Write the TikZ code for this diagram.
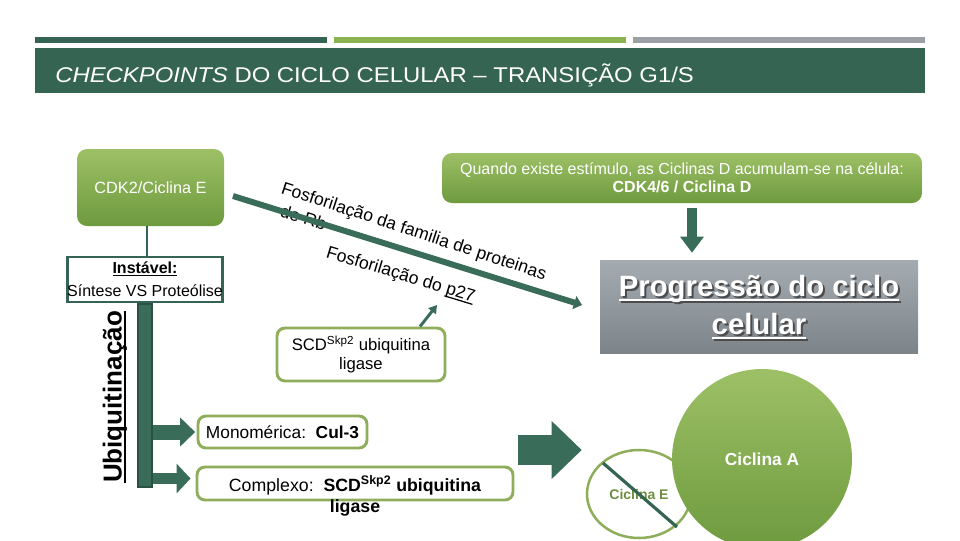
\documentclass[tikz,border=0pt]{standalone}
\usepackage{fontspec}
\setmainfont{Liberation Sans}
\usetikzlibrary{shapes.geometric,arrows.meta,calc}
\definecolor{darkgreen}{HTML}{356552}
\definecolor{arrowgreen}{HTML}{3A6C5A}
\definecolor{leafgreen}{HTML}{8AB24E}
\definecolor{bargray}{HTML}{9AA0A5}
\definecolor{boxtop}{HTML}{9DC066}
\definecolor{boxbottom}{HTML}{6E9A3E}
\definecolor{olive}{HTML}{8FAE5C}
\definecolor{cicEtext}{HTML}{6F8E3F}
\definecolor{graytop}{HTML}{A5ACB1}
\definecolor{graybottom}{HTML}{7C848A}
\newlength\ulwd
\newcommand{\ulin}[1]{\settowidth{\ulwd}{#1}\rlap{\rule[-0.16em]{\ulwd}{0.07em}}#1}

\begin{document}
\begin{tikzpicture}[x=0.75pt, y=-0.75pt,
  greenbox/.style={rounded corners=7.5pt, top color=boxtop, bottom color=boxbottom, text=white, align=center, inner sep=0pt},
  olivebox/.style={draw=olive, line width=2.2pt, rounded corners=6pt, fill=white, align=center, inner sep=0pt},
  framebox/.style={draw=darkgreen, line width=2.2pt, fill=white, align=center, inner sep=0pt},
  rottext/.style={anchor=base west, inner sep=0pt, font=\fontsize{13.2}{15}\selectfont},
  progtext/.style={align=center, inner sep=0pt, font=\fontsize{22}{28.5}\selectfont\bfseries},
  sidearrow/.style={arrowgreen, shorten >=1pt}]
  \useasboundingbox (0,0) rectangle (960,540);

  % Header
  \fill[darkgreen] (35,37) rectangle (327,43);
  \fill[leafgreen] (334,37) rectangle (626,43);
  \fill[bargray] (633,37) rectangle (925,43);
  \fill[darkgreen] (35,48) rectangle (925,93);
  \node[anchor=west, text=white, inner sep=0pt, xscale=1.12, font=\fontsize{16}{19}\selectfont] (titulo) at (55,75)
    {\textit{CHECKPOINTS} DO CICLO CELULAR – TRANSIÇÃO G1/S};

  % Left column
  \node[greenbox, minimum width=110.25pt, minimum height=57.75pt, font=\fontsize{12.2}{14}\selectfont] (cdk2) at (150.5,187.5) {CDK2/Ciclina E};
  \node[framebox, minimum width=115.5pt, minimum height=33.75pt, font=\fontsize{12}{17.5}\selectfont] (instavel) at (145,279.5)
    {\textbf{\ulin{Instável:}}\\Síntese VS Proteólise};
  \coordinate (ligaCdk) at ($(instavel.north)+(2,0)$);
  \draw[darkgreen, line width=2.2pt] (ligaCdk) -- (ligaCdk |- cdk2.south);
  \node[fill=arrowgreen, draw=darkgreen!80!black, line width=0.8pt, minimum width=10.5pt, minimum height=137.25pt, inner sep=0pt, anchor=north] (ubiqbar) at (instavel.south) {};
  \node[rotate=90, inner sep=0pt, font=\fontsize{19.5}{22}\selectfont\bfseries] (ubiqlabel) at (115,397) {\ulin{Ubiquitinação}};

  % Ubiquitin ligases
  \node[olivebox, minimum width=126.75pt, minimum height=24pt, font=\fontsize{13}{15}\selectfont] (mono) at (282.5,432) {Monomérica:\ \ \textbf{Cul-3}};
  \node[olivebox, minimum width=237pt, minimum height=24.75pt] (complexo) at (355,483.5) {};
  \node[align=center, inner sep=0pt, font=\fontsize{13.3}{15.75}\selectfont] (complexotxt) at (355,496)
    {Complexo:\ \ \textbf{SCD\textsuperscript{Skp2} ubiquitina}\\\textbf{ligase}};
  \draw[sidearrow, line width=11.25pt, -{Triangle[length=11.25pt,width=21pt]}] (ubiqbar.east |- mono.west) -- (mono.west);
  \draw[sidearrow, line width=8.25pt, -{Triangle[length=10.5pt,width=21.75pt]}, shorten >=3.75pt] ($(ubiqbar.east |- complexo.west)+(0,-5)$) -- ($(complexo.west)+(0,-5)$);

  \node[olivebox, minimum width=126pt, minimum height=39.75pt, font=\fontsize{12.5}{14.5}\selectfont] (scd) at (361,354.5) {SCD\textsuperscript{Skp2} ubiquitina\\ligase};

  % Phosphorylation
  \node[rottext, rotate=-18] (deRb) at (279,216) {de Rb};
  \coordinate (fosfIni) at (233,196);
  \coordinate (fosfFim) at (582,305);
  \draw[arrowgreen, line width=4.5pt, -{Triangle[length=6pt,width=10pt]}] (fosfIni) -- (fosfFim);
  \node[rottext, rotate=-18.2] (fosfRb) at (280,193) {Fosforilação da familia de proteinas};
  \node[rottext, rotate=-17] (fosfp27) at (325,257) {Fosforilação do \ulin{p27}};
  \coordinate (p27tip) at (437,305);
  \draw[arrowgreen, line width=2.2pt, -{Triangle[length=6pt,width=7pt]}] ($(scd.north)+(59,0)$) -- (p27tip);

  % Right column
  \node[greenbox, minimum width=360pt, minimum height=37.5pt, font=\fontsize{12}{13.5}\selectfont] (quando) at (682,178)
    {Quando existe estímulo, as Ciclinas D acumulam-se na célula:\\\textbf{CDK4/6 / Ciclina D}};
  \node[minimum width=238.5pt, minimum height=69.75pt, top color=graytop, bottom color=graybottom, inner sep=0pt] (progresso) at (759,306.5) {};
  \coordinate (setaD) at ($(quando.south)+(10,0)$);
  \draw[arrowgreen, line width=7pt, -{Triangle[length=12pt,width=17pt]}, shorten <=3.75pt, shorten >=5.25pt]
    (setaD) -- (setaD |- progresso.north);
  \node[progtext, text=black!70] (progsombra) at (761,309) {\ulin{Progressão do ciclo}\\\ulin{celular}};
  \node[progtext, text=white] (progtexto) at (759,307) {\ulin{Progressão do ciclo}\\\ulin{celular}};

  % Cyclins
  \node[ellipse, draw=olive, line width=1.9pt, minimum width=78pt, minimum height=66pt, inner sep=0pt, text=cicEtext, font=\fontsize{10.5}{12}\selectfont\bfseries] (cicE) at (639,494) {Ciclina E};
  \draw[darkgreen, line width=2.4pt] ($(cicE.center)+(-36,-31)$) -- ($(cicE.center)+(38,33)$);
  \node[circle, minimum size=135pt, inner sep=0pt, top color=boxtop, bottom color=boxbottom, text=white, font=\fontsize{13}{15}\selectfont\bfseries] (cicA) at (762,459) {Ciclina A};
  \coordinate (setaE) at (518,450);
  \draw[arrowgreen, line width=22.5pt, -{Triangle[length=22.5pt,width=42pt]}, shorten >=3pt] (setaE) -- (cicE.west |- setaE);
\end{tikzpicture}
\end{document}
